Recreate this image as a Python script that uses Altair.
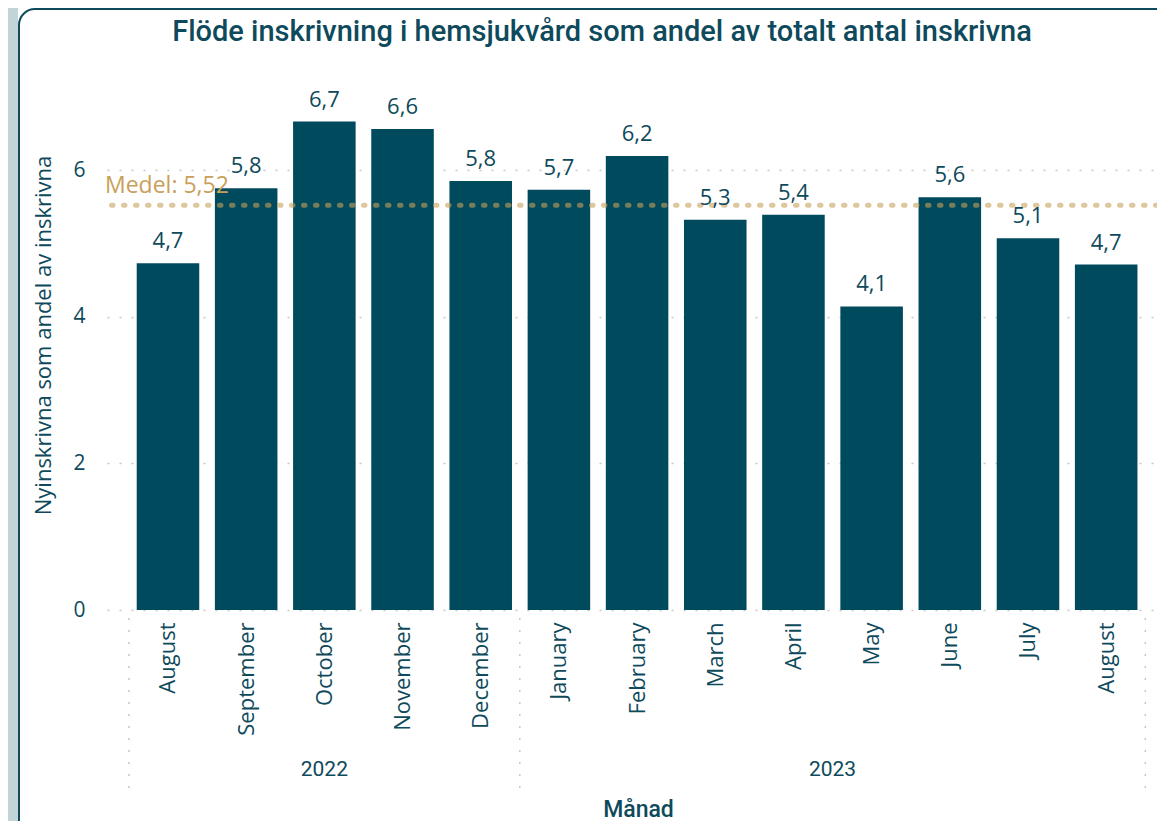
import altair as alt
import pandas as pd

# ---- data ----
months = ["August", "September", "October", "November", "December",
          "January", "February", "March", "April", "May", "June", "July", "August"]
years = ["2022", "2022", "2022", "2022", "2022",
         "2023", "2023", "2023", "2023", "2023", "2023", "2023", "2023"]
values = [4.73, 5.75, 6.66, 6.56, 5.85, 5.73, 6.19, 5.32, 5.39, 4.14, 5.63, 5.07, 4.71]
mean_value = 5.52
y_ticks = [0, 2, 4, 6]

TITLE = "Flöde inskrivning i hemsjukvård som andel av totalt antal inskrivna"
Y_TITLE = "Nyinskrivna som andel av inskrivna"
X_TITLE = "Månad"
MEAN_LABEL = "Medel: 5,52"

BAR = "#004A5E"
TEXT = "#0E4A5B"
GOLD = "#C9A05B"
GOLD_DOT = "#C8A15C"
GRID = "#C8C8C8"
LABEL_FONT = "Open Sans"
HEAD_FONT = "Roboto"

n = len(months)
df = pd.DataFrame({"idx": list(range(n)), "month": months, "year": years, "value": values})
df["lo"] = df["idx"] - 0.4
df["hi"] = df["idx"] + 0.4
df["label"] = df["value"].map(lambda v: f"{v:.1f}".replace(".", ","))

# year groups (derived from the lists above)
ygroups = []
for yv in dict.fromkeys(years):
    ids = [i for i, y in enumerate(years) if y == yv]
    ygroups.append({"year": yv, "center": (ids[0] + ids[-1]) / 2})
ydf = pd.DataFrame(ygroups)
bounds = [-0.5] + [i + 0.5 for i in range(n - 1) if years[i] != years[i + 1]] + [n - 0.5]
bdf = pd.DataFrame({"b": bounds})

W, H = 1050, 550
xscale = alt.Scale(domain=[-0.78, 12.65], nice=False, zero=False)
yscale = alt.Scale(domain=[0, 7.5], nice=False)

label_expr = "[" + ",".join(f"'{m}'" for m in months) + "][datum.value]"

x_enc = alt.X(
    "lo:Q", scale=xscale,
    axis=alt.Axis(values=list(range(n)), labelExpr=label_expr, labelAngle=270,
                  labelAlign="right", labelBaseline="middle", labelPadding=12,
                  labelFont=LABEL_FONT, labelFontSize=22, labelColor=TEXT,
                  ticks=False, domain=False, grid=False, labelOverlap=False,
                  labelBound=False, labelFlush=False,
                  title=X_TITLE, titleFont=HEAD_FONT, titleFontSize=23,
                  titleFontWeight=500, titleColor=TEXT, titleY=206, titleX=531,
                  titleAlign="center", titleAnchor="start",
                  titleBaseline="alphabetic"),
)
y_enc = alt.Y(
    "value:Q", scale=yscale,
    axis=alt.Axis(values=y_ticks, format="d", ticks=False, domain=False, labelPadding=22,
                  labelFont=LABEL_FONT, labelFontSize=21, labelColor=TEXT,
                  grid=True, gridColor=GRID, gridDash=[2, 10], gridWidth=1.5,
                  title=Y_TITLE, titleFont=LABEL_FONT, titleFontSize=22,
                  titleFontWeight="normal", titleColor=TEXT, titlePadding=17),
)

one = pd.DataFrame({"a": [0]})
# decorative card frame (Power BI style visual container)
strip = alt.Chart(one).mark_rect(color="#C3D4D9").encode(
    x=alt.value(-99), x2=alt.value(-89), y=alt.value(-60), y2=alt.value(780))
card = alt.Chart(one).mark_rect(
    fillOpacity=0, stroke=TEXT, strokeWidth=2, cornerRadius=16
).encode(x=alt.value(-88), x2=alt.value(1120), y=alt.value(-51), y2=alt.value(790))

base = alt.Chart(df)
bars = base.mark_bar(color=BAR).encode(x=x_enc, x2="hi:Q", y=y_enc, y2=alt.datum(0))

bar_labels = base.mark_text(font=LABEL_FONT, fontSize=22, color=TEXT,
                            baseline="bottom", dy=-10).encode(
    x=alt.X("idx:Q", scale=xscale), y=alt.Y("value:Q", scale=yscale), text="label:N")

mean_df = pd.DataFrame({"m": [mean_value], "t": [MEAN_LABEL]})
mean_rule = alt.Chart(mean_df).mark_rule(
    color=GOLD_DOT, opacity=0.6, strokeWidth=5, strokeDash=[1.5, 10.5], strokeCap="round"
).encode(y=alt.Y("m:Q", scale=yscale))
mean_text = alt.Chart(mean_df).mark_text(
    font=LABEL_FONT, fontSize=23, color=GOLD, align="left", baseline="bottom", dy=-7
).encode(x=alt.value(-2), y=alt.Y("m:Q", scale=yscale), text="t:N")

seps = alt.Chart(bdf).mark_rule(color=GRID, strokeWidth=1.5, strokeDash=[2, 10]).encode(
    x=alt.X("b:Q", scale=xscale), y=alt.value(H + 8), y2=alt.value(H + 182))

year_text = alt.Chart(ydf).mark_text(
    font=HEAD_FONT, fontSize=21, color=TEXT, baseline="middle"
).encode(x=alt.X("center:Q", scale=xscale), y=alt.value(H + 160), text="year:N")

title_df = pd.DataFrame({"t": [TITLE]})
title_text = alt.Chart(title_df).mark_text(
    font=HEAD_FONT, fontSize=29, fontWeight=500, color=TEXT, baseline="middle"
).encode(x=alt.value(495), y=alt.value(-28), text="t:N")

chart = alt.layer(strip, card, bars, mean_rule, bar_labels, mean_text, seps,
                  year_text, title_text).properties(
    width=W, height=H,
    autosize=alt.AutoSizeParams(type="none"),
    padding={"left": 99, "top": 52, "right": 0, "bottom": 211},
).configure(background="white").configure_view(strokeWidth=0, stroke="transparent")

chart.save("out.html", embed_options={"renderer": "svg", "actions": False})
